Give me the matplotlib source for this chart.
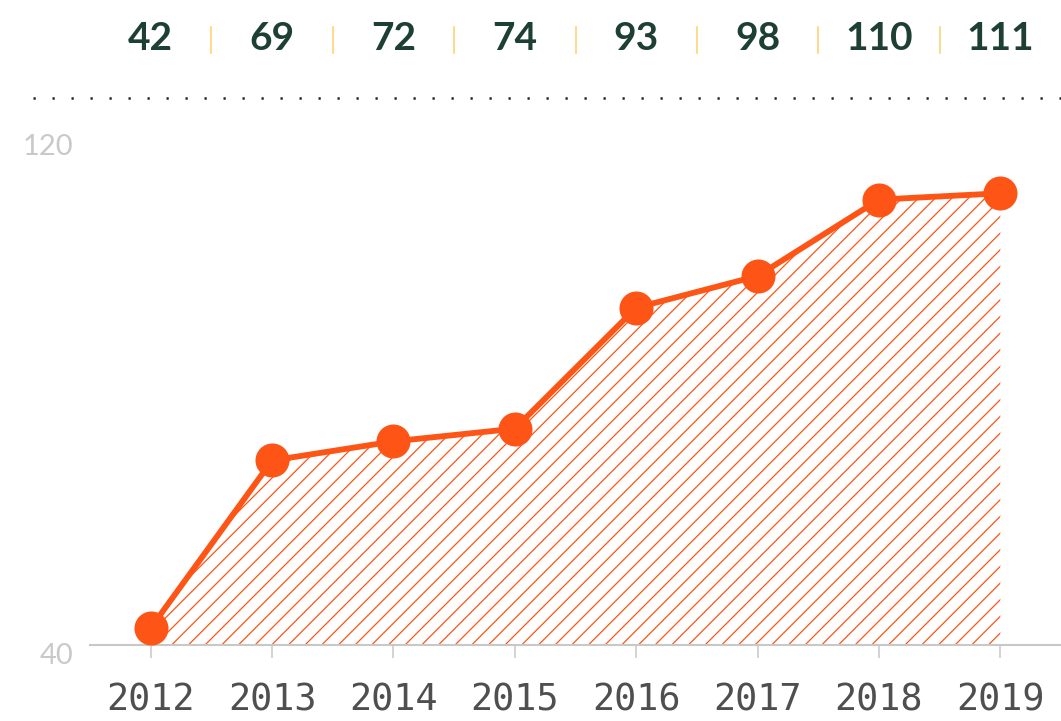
import numpy as np
import matplotlib
matplotlib.use("Agg")
import matplotlib.pyplot as plt
import matplotlib.transforms as mtransforms
from matplotlib.lines import Line2D

# --- DATA ---
years = [2012, 2013, 2014, 2015, 2016, 2017, 2018, 2019]
values = [42, 69, 72, 74, 93, 98, 110, 111]
year_labels = ["2012", "2013", "2014", "2015", "2016", "2017", "2018", "2019"]
y_ticks = [40, 120]

# --- STYLE ---
ORANGE = "#FE5516"
DARK_GREEN = "#1E3F33"
SEP_YELLOW = "#FFD27A"
AXIS_GRAY = "#C8C8C8"
LABEL_GRAY = "#C9C9C9"
YEAR_GRAY = "#4F4F4F"
DPI = 100
MARKER_SIZE = 24.5  # points

plt.rcParams["hatch.linewidth"] = 0.9

fig = plt.figure(figsize=(10.61, 7.21), dpi=DPI)
ax = fig.add_axes([90 / 1061, 1 - 645 / 721, 1 - 90 / 1061, (645 - 136) / 721])
ax.set_xlim(2011.5, 2019.5)
ax.set_ylim(40, 120)

# keep the dots sitting on top of the baseline instead of cutting through it
px_per_unit = ax.get_window_extent().height / (120 - 40)
radius_units = (MARKER_SIZE / 2) * DPI / 72 / px_per_unit
plot_vals = np.maximum(values, 40 + radius_units)

ax.fill_between(years, 40, plot_vals, facecolor="none", edgecolor=ORANGE,
                linewidth=0, hatch="//", zorder=1)
ax.plot(years, plot_vals, color=ORANGE, lw=4.2, zorder=3,
        marker="o", markersize=MARKER_SIZE, markeredgewidth=0, clip_on=False)

# axes styling
for s in ["top", "right", "left"]:
    ax.spines[s].set_visible(False)
ax.spines["bottom"].set_color(AXIS_GRAY)
ax.spines["bottom"].set_linewidth(1.5)
ax.set_xticks(years)
ax.set_xticklabels(year_labels, family="DejaVu Sans Mono", fontsize=26.5, color=YEAR_GRAY)
ax.tick_params(axis="x", length=9.4, width=1.1, color=AXIS_GRAY, pad=17)
ax.set_yticks(y_ticks)
ax.set_yticklabels([str(t) for t in y_ticks], family="Lato", fontweight="normal",
                   fontsize=21, color=LABEL_GRAY)
ax.tick_params(axis="y", length=0, pad=12)
shift = mtransforms.ScaledTranslation(0, -6 / 72, fig.dpi_scale_trans)
for lab in ax.get_yticklabels():
    lab.set_transform(lab.get_transform() + shift)

# value strip on top
top_tr = mtransforms.blended_transform_factory(ax.transData, fig.transFigure)
for yr, v in zip(years, values):
    ax.text(yr, 1 - 38 / 721, str(v), transform=top_tr, ha="center", va="center",
            family="Lato", fontweight="bold", fontsize=28, color=DARK_GREEN)
mids = (np.array(years[:-1]) + np.array(years[1:])) / 2
for m in mids:
    ax.plot([m, m], [1 - 27 / 721, 1 - 53 / 721], transform=top_tr,
            color=SEP_YELLOW, lw=1.2, clip_on=False)

# dotted divider
fig.add_artist(Line2D([33 / 1061, 1], [1 - 98 / 721] * 2, transform=fig.transFigure,
                      color="#222222", lw=1.8, linestyle=(0, (0.9, 6.7))))

fig.savefig("out.png", dpi=DPI)
